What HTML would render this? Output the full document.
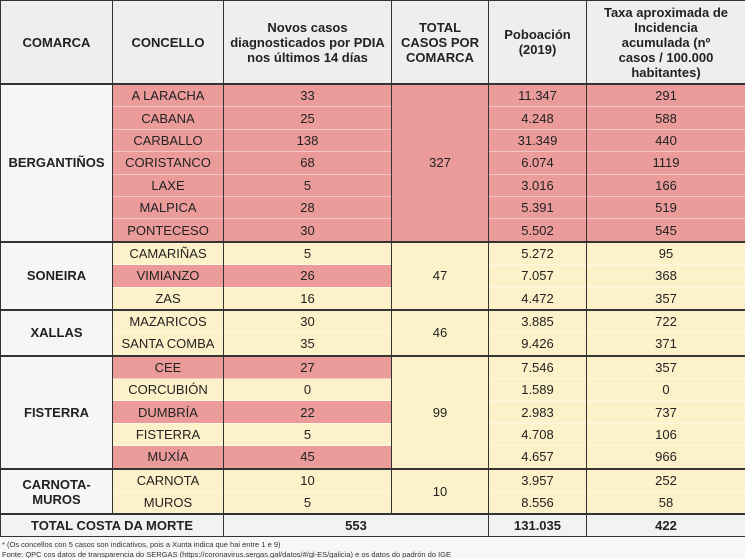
<!DOCTYPE html>
<html><head><meta charset="utf-8"><style>
html,body{margin:0;padding:0;background:#fff;width:745px;height:558px;overflow:hidden}
table{border-collapse:collapse;table-layout:fixed;width:745px;font-family:"Liberation Sans",sans-serif;font-size:13px;color:#222}
td,th{text-align:center;padding:0;border-left:1px solid #333;border-right:1px solid #333;line-height:15px}
th{background:#eeeeee;font-weight:bold;height:82px;border-bottom:1px solid #333;border-top:1px solid #333;padding:0 4px}
th.tc{padding:0 9px}
th.tx{padding:0 16px}
tr.r td{height:21.4px;border-top:1px solid rgba(255,255,255,0.45)}
td.cm{background:#f6f6f6;font-weight:bold;font-size:13px}
.p{background:#eb9c9a}
.y{background:#fdf1c9}
tr.g td{border-top:2px solid #333}
tr.t td{background:#f2f2f2;font-weight:bold;height:21px;border-top:2px solid #333;border-bottom:1px solid #333}
.foot{font-family:"Liberation Sans",sans-serif;font-size:7.5px;color:#333;padding:3px 2px;line-height:10px;background:#f7f7f7;height:19px}
</style></head><body>
<table>
<colgroup><col style="width:112px"><col style="width:111px"><col style="width:168px"><col style="width:97px"><col style="width:98px"><col style="width:159px"></colgroup>
<tr>
<th>COMARCA</th>
<th>CONCELLO</th>
<th>Novos casos diagnosticados por PDIA nos últimos 14 días</th>
<th class="tc">TOTAL CASOS POR COMARCA</th>
<th>Poboación (2019)</th>
<th class="tx">Taxa aproximada de Incidencia acumulada (nº casos / 100.000 habitantes)</th>
</tr>
<tr class="r g"><td class="cm" rowspan="7">BERGANTIÑOS</td><td class="p">A LARACHA</td><td class="p">33</td><td class="p" rowspan="7">327</td><td class="p">11.347</td><td class="p">291</td></tr>
<tr class="r"><td class="p">CABANA</td><td class="p">25</td><td class="p">4.248</td><td class="p">588</td></tr>
<tr class="r"><td class="p">CARBALLO</td><td class="p">138</td><td class="p">31.349</td><td class="p">440</td></tr>
<tr class="r"><td class="p">CORISTANCO</td><td class="p">68</td><td class="p">6.074</td><td class="p">1119</td></tr>
<tr class="r"><td class="p">LAXE</td><td class="p">5</td><td class="p">3.016</td><td class="p">166</td></tr>
<tr class="r"><td class="p">MALPICA</td><td class="p">28</td><td class="p">5.391</td><td class="p">519</td></tr>
<tr class="r"><td class="p">PONTECESO</td><td class="p">30</td><td class="p">5.502</td><td class="p">545</td></tr>
<tr class="r g"><td class="cm" rowspan="3">SONEIRA</td><td class="y">CAMARIÑAS</td><td class="y">5</td><td class="y" rowspan="3">47</td><td class="y">5.272</td><td class="y">95</td></tr>
<tr class="r"><td class="p">VIMIANZO</td><td class="p">26</td><td class="y">7.057</td><td class="y">368</td></tr>
<tr class="r"><td class="y">ZAS</td><td class="y">16</td><td class="y">4.472</td><td class="y">357</td></tr>
<tr class="r g"><td class="cm" rowspan="2">XALLAS</td><td class="y">MAZARICOS</td><td class="y">30</td><td class="y" rowspan="2">46</td><td class="y">3.885</td><td class="y">722</td></tr>
<tr class="r"><td class="y">SANTA COMBA</td><td class="y">35</td><td class="y">9.426</td><td class="y">371</td></tr>
<tr class="r g"><td class="cm" rowspan="5">FISTERRA</td><td class="p">CEE</td><td class="p">27</td><td class="y" rowspan="5">99</td><td class="y">7.546</td><td class="y">357</td></tr>
<tr class="r"><td class="y">CORCUBIÓN</td><td class="y">0</td><td class="y">1.589</td><td class="y">0</td></tr>
<tr class="r"><td class="p">DUMBRÍA</td><td class="p">22</td><td class="y">2.983</td><td class="y">737</td></tr>
<tr class="r"><td class="y">FISTERRA</td><td class="y">5</td><td class="y">4.708</td><td class="y">106</td></tr>
<tr class="r"><td class="p">MUXÍA</td><td class="p">45</td><td class="y">4.657</td><td class="y">966</td></tr>
<tr class="r g"><td class="cm" rowspan="2">CARNOTA-<br>MUROS</td><td class="y">CARNOTA</td><td class="y">10</td><td class="y" rowspan="2">10</td><td class="y">3.957</td><td class="y">252</td></tr>
<tr class="r"><td class="y">MUROS</td><td class="y">5</td><td class="y">8.556</td><td class="y">58</td></tr>
<tr class="t"><td colspan="2">TOTAL COSTA DA MORTE</td><td colspan="2">553</td><td>131.035</td><td>422</td></tr>
</table>
<div class="foot">* (Os concellos con 5 casos son indicativos, pois a Xunta indica que hai entre 1 e 9)<br>Fonte: QPC cos datos de transparencia do SERGAS (https://coronavirus.sergas.gal/datos/#/gl-ES/galicia) e os datos do padrón do IGE</div>
</body></html>
